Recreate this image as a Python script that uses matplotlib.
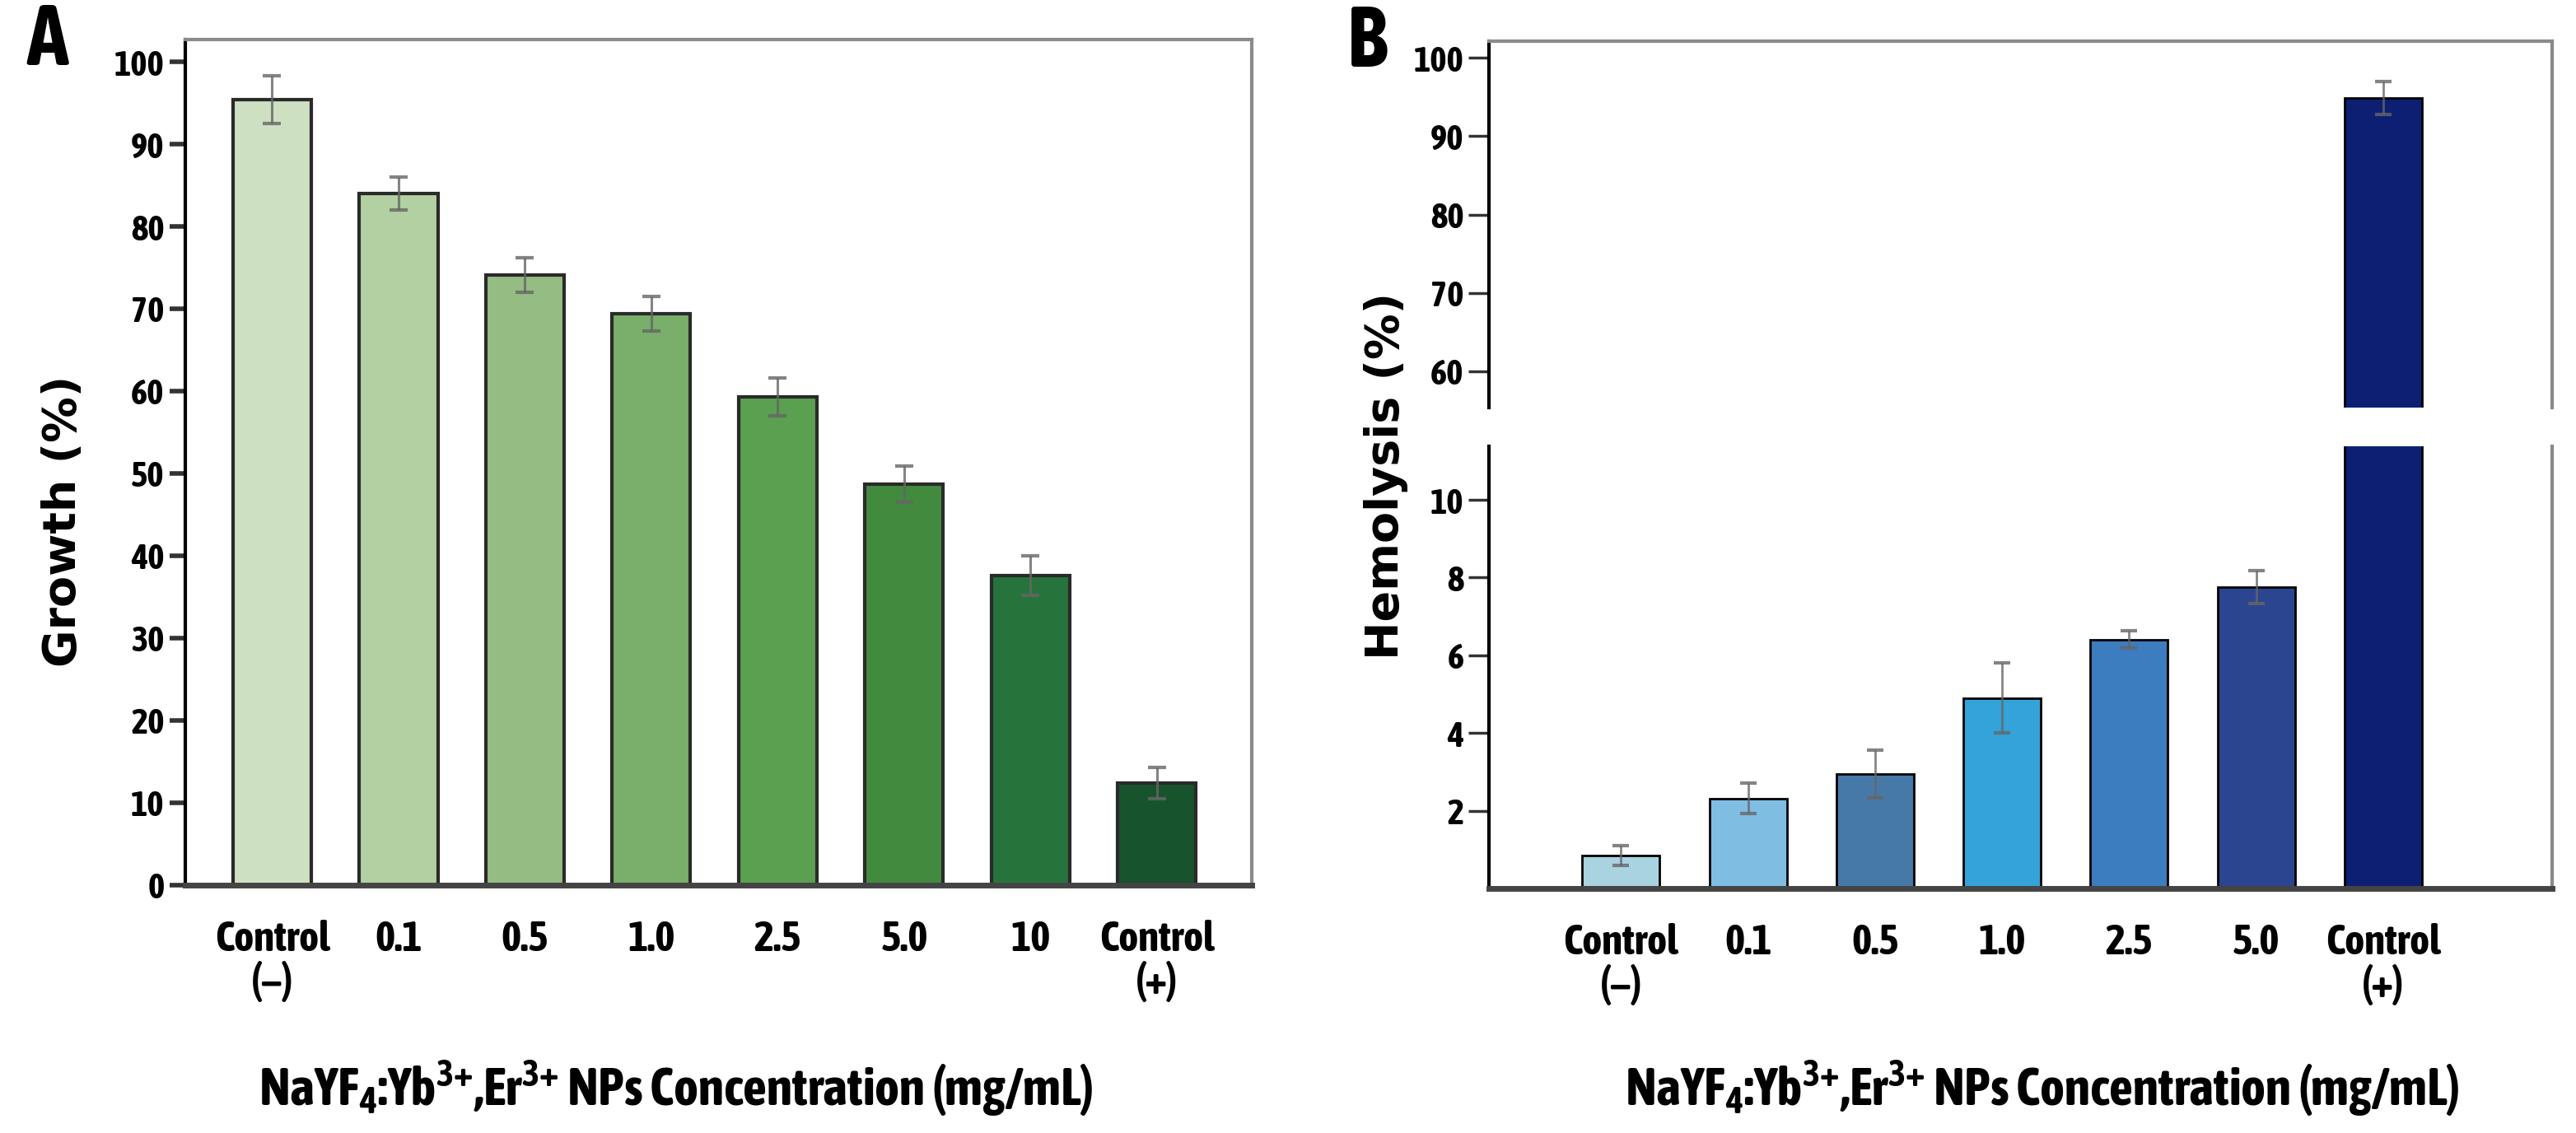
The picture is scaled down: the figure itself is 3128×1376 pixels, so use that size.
import matplotlib
matplotlib.use("Agg")
import matplotlib.pyplot as plt
import numpy as np

# condensed bold face for numbers and titles, wide bold face for y labels
narrow = ["Asap Condensed", "Liberation Sans Narrow", "DejaVu Sans"]
wide = ["DejaVu Sans"]
plt.rcParams["mathtext.fontset"] = "custom"
plt.rcParams["mathtext.rm"] = "Asap Condensed:bold"
plt.rcParams["mathtext.it"] = "Asap Condensed:bold"
plt.rcParams["mathtext.bf"] = "Asap Condensed:bold"

# panel A: growth
growth_labels = ["Control\n(\u2212)", "0.1", "0.5", "1.0", "2.5", "5.0", "10", "Control\n(+)"]
growth = [95.4, 84.0, 74.1, 69.4, 59.3, 48.7, 37.6, 12.4]
growth_err = [2.9, 2.0, 2.1, 2.1, 2.3, 2.2, 2.4, 1.9]
growth_colors = ["#cde1c2", "#b2d0a1", "#95bd83", "#79ae6b", "#5b9f51", "#428a3e",
                 "#26743b", "#17532d"]

# panel B: hemolysis
hemo_labels = ["Control\n(\u2212)", "0.1", "0.5", "1.0", "2.5", "5.0", "Control\n(+)"]
hemo = [0.85, 2.32, 2.95, 4.9, 6.41, 7.76, 94.9]
hemo_err = [0.26, 0.40, 0.62, 0.90, 0.22, 0.42, 2.1]
hemo_colors = ["#a9d3e0", "#80bde3", "#4779a8", "#33a3d9", "#3b7dbf", "#2c4590", "#0c1f73"]

title = "NaYF$_4$:Yb$^{3{+}}$,Er$^{3{+}}$ NPs Concentration (mg/mL)"

fig = plt.figure(figsize=(31.28, 13.76), dpi=100)

def style(ax, tick_len, tick_w, tick_size):
    ax.spines["left"].set_color("black")
    ax.spines["left"].set_linewidth(3)
    for s in ["top", "right"]:
        ax.spines[s].set_color("#8a8a8a")
        ax.spines[s].set_linewidth(3)
    ax.spines["bottom"].set_color("#444444")
    ax.spines["bottom"].set_linewidth(5)
    ax.tick_params(axis="y", direction="out", length=tick_len, width=tick_w,
                   color="#333333", labelsize=tick_size, pad=4)
    ax.tick_params(axis="x", length=0, labelsize=37, pad=30)
    for t in ax.get_yticklabels() + ax.get_xticklabels():
        t.set_fontfamily(narrow)
        t.set_fontweight("bold")

# ---- A ----
axA = fig.add_axes([0.0718, 0.2188, 0.4141, 0.7463])
x = np.arange(len(growth))
axA.bar(x, growth, width=0.62, color=growth_colors, edgecolor="#2a2a2a", linewidth=3, zorder=2)
axA.errorbar(x, growth, yerr=growth_err, fmt="none", ecolor="#666666", elinewidth=2.2,
             capsize=8, capthick=3, alpha=0.8, zorder=3)
axA.set_xlim(-0.69, 7.75)
axA.set_ylim(0, 102.7)
axA.set_yticks(np.arange(0, 101, 10))
axA.set_xticks(x)
axA.set_xticklabels(growth_labels, linespacing=1.05)
style(axA, 14, 4, 31)
axA.set_ylabel("Growth (%)", fontfamily=wide, fontweight="bold", fontsize=40)
axA.yaxis.set_label_coords(-0.093, 0.43)
axA.set_xlabel(title, fontfamily=narrow, fontweight="bold", fontsize=46)
axA.xaxis.set_label_coords(0.46, -0.205)
fig.text(0.0105, 0.963, "A", fontfamily=narrow, fontweight="bold", fontsize=74, va="center")

# ---- B (broken axis) ----
xb = np.arange(len(hemo))
axU = fig.add_axes([0.578, 0.6399, 0.4127, 0.3235])
axL = fig.add_axes([0.578, 0.2158, 0.4127, 0.3900])
for ax in (axU, axL):
    ax.bar(xb, hemo, width=0.61, color=hemo_colors, edgecolor="black", linewidth=2, zorder=2)
    ax.errorbar(xb, hemo, yerr=hemo_err, fmt="none", ecolor="#666666", elinewidth=2,
                capsize=7, capthick=3, alpha=0.8, zorder=3)
    ax.set_xlim(-1.04, 7.33)
axU.set_ylim(55.3, 102.1)
axU.set_yticks([60, 70, 80, 90, 100])
axL.set_ylim(0, 11.37)
axL.set_yticks([2, 4, 6, 8, 10])
axL.set_xticks(xb)
axL.set_xticklabels(hemo_labels, linespacing=1.05)
style(axU, 18, 2.5, 31)
style(axL, 18, 2.5, 31)
axU.spines["bottom"].set_visible(False)
axU.set_xticks([])
axL.spines["top"].set_visible(False)
axL.set_xlabel(title, fontfamily=narrow, fontweight="bold", fontsize=46)
axL.xaxis.set_label_coords(0.52, -0.385)
fig.text(0.538, 0.58, "Hemolysis (%)", rotation=90, fontfamily=wide, fontweight="bold",
         fontsize=40, ha="center", va="center")
fig.text(0.523, 0.962, "B", fontfamily=narrow, fontweight="bold", fontsize=74, va="center")

fig.savefig("out.png", dpi=100)
